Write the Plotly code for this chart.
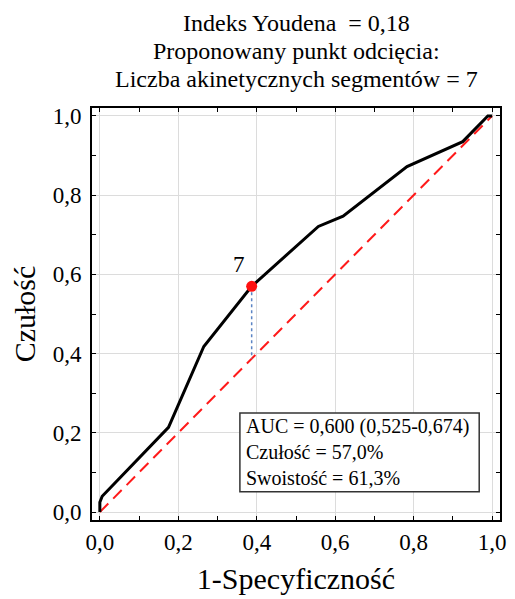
import plotly.graph_objects as go

# ROC curve: 1-specificity (x) vs sensitivity (y)
fpr = [0.0, 0.0, 0.006, 0.052, 0.175, 0.265, 0.387, 0.557, 0.620, 0.783, 0.925, 0.989, 1.0]
tpr = [0.0, 0.025, 0.040, 0.088, 0.214, 0.418, 0.570, 0.721, 0.747, 0.872, 0.935, 1.0, 1.0]

# Proposed cut-off (Youden index)
cut_label = "7"
cut_sens = 0.570
cut_spec = 0.613
cut_fpr = round(1 - cut_spec, 3)

auc_text = "AUC = 0,600 (0,525-0,674)"
sens_text = "Czułość = 57,0%"
spec_text = "Swoistość = 61,3%"

title_lines = [
    "Indeks Youdena  = 0,18",
    "Proponowany punkt odcięcia:",
    "Liczba akinetycznych segmentów = 7",
]

FONT = "Liberation Serif"

fig = go.Figure()

# reference diagonal
fig.add_trace(go.Scatter(
    x=[0, 1], y=[0, 1], mode="lines",
    line=dict(color="#ff1a1a", width=2, dash="12px,7px"),
    hoverinfo="skip", showlegend=False,
))

# Youden distance from diagonal
fig.add_trace(go.Scatter(
    x=[cut_fpr, cut_fpr], y=[cut_sens, cut_fpr], mode="lines",
    line=dict(color="#5b84c4", width=1.5, dash="dot"),
    hoverinfo="skip", showlegend=False,
))

# ROC curve
fig.add_trace(go.Scatter(
    x=fpr, y=tpr, mode="lines",
    line=dict(color="black", width=3),
    showlegend=False,
))

# cut-off point
fig.add_trace(go.Scatter(
    x=[cut_fpr], y=[cut_sens], mode="markers",
    marker=dict(color="#ff1010", size=11, line=dict(width=0)),
    showlegend=False,
))

axis_common = dict(
    range=[-0.02, 1.02],
    tick0=0, dtick=0.2, tickformat=".1f",
    showgrid=True, gridcolor="#dcdcdc", gridwidth=1,
    zeroline=False,
    showline=True, linecolor="black", linewidth=2, mirror="allticks",
    ticks="inside", ticklen=4, tickcolor="black", tickwidth=1,
    minor=dict(dtick=0.1, ticks="inside", ticklen=4, tickcolor="black", showgrid=False),
    tickfont=dict(family=FONT, size=23, color="black"),
)

fig.update_xaxes(**axis_common,
                 title=dict(text="1-Specyficzność", font=dict(family=FONT, size=30, color="black"), standoff=14))
fig.update_yaxes(**axis_common, ticklabelstandoff=4,
                 title=dict(text="Czułość", font=dict(family=FONT, size=30, color="black"), standoff=8))

# statistics box
fig.add_shape(type="rect", xref="x", yref="y",
              x0=0.357, x1=0.967, y0=0.051, y1=0.25,
              line=dict(color="#333333", width=1.5), fillcolor="white", layer="above")
fig.add_annotation(
    xref="x", yref="y", x=0.368, y=0.1505, xanchor="left", yanchor="middle",
    text="<br>".join([auc_text, sens_text, spec_text]), align="left", showarrow=False,
    font=dict(family=FONT, size=20, color="black"),
)

# cut-off label
fig.add_annotation(
    xref="x", yref="y", x=cut_fpr - 0.032, y=cut_sens + 0.055,
    text=cut_label, showarrow=False,
    font=dict(family=FONT, size=23, color="black"),
)

# multi-line title
title_y = [23, 51, 79]
for line, py in zip(title_lines, title_y):
    fig.add_annotation(
        xref="paper", yref="paper", x=0.5, y=1 + (108 - py) / 414,
        xanchor="center", yanchor="middle", text=line, showarrow=False,
        font=dict(family=FONT, size=24, color="black"),
    )

fig.update_layout(
    width=515, height=599,
    margin=dict(l=92, r=9, t=108, b=77),
    paper_bgcolor="white", plot_bgcolor="white",
    separators=",.",
    showlegend=False,
)

fig.write_html("out.html")
